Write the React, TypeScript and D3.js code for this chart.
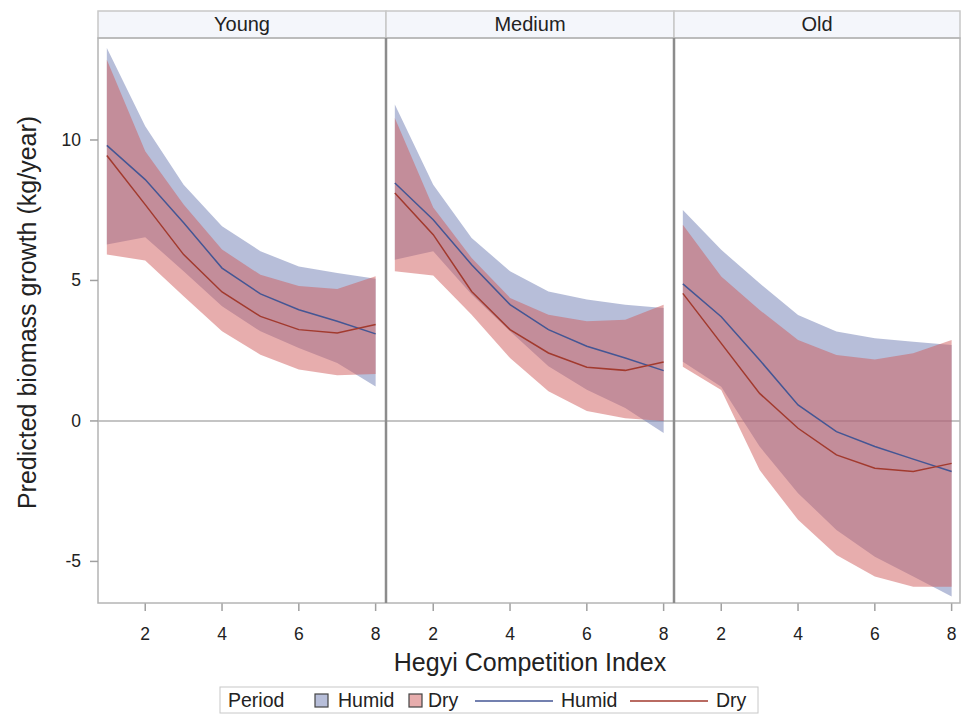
import React from "react";
import * as d3 from "d3";

// Hegyi Competition Index values
const hci = [1, 2, 3, 4, 5, 6, 7, 8];
const panelNames = ["Young", "Medium", "Old"];
const xTicks = [2, 4, 6, 8];
const yTicks = [-5, 0, 5, 10];

// Young
const youngHumid = [9.81, 8.59, 7.05, 5.44, 4.52, 3.96, 3.55, 3.1];
const youngHumidLo = [6.28, 6.54, 5.33, 4.08, 3.19, 2.6, 2.06, 1.23];
const youngHumidHi = [13.27, 10.49, 8.41, 6.93, 6.04, 5.5, 5.27, 5.06];
const youngDry = [9.45, 7.7, 5.92, 4.59, 3.72, 3.25, 3.13, 3.43];
const youngDryLo = [5.92, 5.71, 4.44, 3.19, 2.36, 1.83, 1.63, 1.67];
const youngDryHi = [12.86, 9.6, 7.7, 6.1, 5.2, 4.8, 4.7, 5.15];

// Medium
const mediumHumid = [8.47, 7.16, 5.56, 4.14, 3.25, 2.66, 2.24, 1.79];
const mediumHumidLo = [5.74, 6.04, 4.5, 3.19, 1.95, 1.11, 0.46, -0.43];
const mediumHumidHi = [11.26, 8.41, 6.51, 5.33, 4.61, 4.32, 4.14, 4.02];
const mediumDry = [8.11, 6.63, 4.61, 3.25, 2.42, 1.91, 1.8, 2.1];
const mediumDryLo = [5.33, 5.18, 3.78, 2.24, 1.06, 0.35, 0.1, 0.0];
const mediumDryHi = [10.78, 7.6, 5.8, 4.38, 3.78, 3.55, 3.6, 4.14];

// Old
const oldHumid = [4.88, 3.71, 2.17, 0.57, -0.38, -0.91, -1.36, -1.8];
const oldHumidLo = [2.11, 1.22, -0.91, -2.57, -3.88, -4.83, -5.54, -6.25];
const oldHumidHi = [7.51, 6.09, 4.9, 3.77, 3.18, 2.94, 2.82, 2.7];
const oldDry = [4.54, 2.76, 0.98, -0.26, -1.21, -1.68, -1.8, -1.51];
const oldDryLo = [1.93, 1.1, -1.75, -3.52, -4.77, -5.54, -5.9, -5.9];
const oldDryHi = [6.98, 5.14, 3.95, 2.88, 2.35, 2.19, 2.41, 2.88];

const humidFill = "rgb(111,126,179)";
const dryFill = "rgb(208,91,91)";
const humidLine = "#445694";
const dryLine = "#A23A2E";
const FONT = "'Liberation Sans', Arial, sans-serif";

export default function App() {
  const W = 962;
  const H = 714;
  const plotTop = 38;
  const plotBottom = 603;
  const headerTop = 11;
  const panelLeft = 98;
  const panelW = 288;
  const rightEdge = 960;

  const panels = [
    { name: panelNames[0], hm: youngHumid, hl: youngHumidLo, hh: youngHumidHi, dm: youngDry, dl: youngDryLo, dh: youngDryHi },
    { name: panelNames[1], hm: mediumHumid, hl: mediumHumidLo, hh: mediumHumidHi, dm: mediumDry, dl: mediumDryLo, dh: mediumDryHi },
    { name: panelNames[2], hm: oldHumid, hl: oldHumidLo, hh: oldHumidHi, dm: oldDry, dl: oldDryLo, dh: oldDryHi },
  ];

  const y = d3.scaleLinear().domain([-6.48, 13.63]).range([plotBottom, plotTop]);
  const legendY = 700;

  return (
    <svg width={W} height={H} style={{ position: "absolute", left: 0, top: 0, background: "#fff" }} fontFamily={FONT}>
      <rect x={0} y={0} width={W} height={H} fill="#fff" />
      {panels.map((p, i) => {
        const x0 = panelLeft + i * panelW;
        const x1 = i === 2 ? rightEdge : x0 + panelW;
        const x = d3.scaleLinear().domain([0.77, 8.27]).range([x0, x0 + panelW]);
        const area = (lo: number[], hi: number[]) =>
          d3
            .area<number>()
            .x((d) => x(d))
            .y0((_, k) => y(lo[k]))
            .y1((_, k) => y(hi[k]))(hci) as string;
        const line = (m: number[]) =>
          d3
            .line<number>()
            .x((d) => x(d))
            .y((_, k) => y(m[k]))(hci) as string;
        return (
          <g key={p.name}>
            <rect x={x0} y={headerTop} width={x1 - x0} height={plotTop - headerTop} fill="#f4f6fb" stroke="#c8c8c8" strokeWidth={1.5} />
            <text x={(x0 + x1) / 2} y={31} textAnchor="middle" fontSize={20} fill="#222">
              {p.name}
            </text>
            <line x1={x0} x2={x1} y1={y(0)} y2={y(0)} stroke="#c4c4c4" strokeWidth={2} />
            <path d={area(p.hl, p.hh)} fill={humidFill} fillOpacity={0.5} />
            <path d={area(p.dl, p.dh)} fill={dryFill} fillOpacity={0.5} />
            <path d={line(p.hm)} fill="none" stroke={humidLine} strokeWidth={1.5} />
            <path d={line(p.dm)} fill="none" stroke={dryLine} strokeWidth={1.5} />
            {xTicks.map((t) => (
              <g key={t}>
                <line x1={x(t)} x2={x(t)} y1={plotBottom} y2={plotBottom + 8} stroke="#a0a0a0" strokeWidth={1.5} />
                <text x={x(t)} y={640} textAnchor="middle" fontSize={17.5} fill="#222">
                  {t}
                </text>
              </g>
            ))}
          </g>
        );
      })}
      <rect x={panelLeft} y={plotTop} width={rightEdge - panelLeft} height={plotBottom - plotTop} fill="none" stroke="#b4b4b4" strokeWidth={1.5} />
      {[1, 2].map((i) => (
        <line key={i} x1={panelLeft + i * panelW} x2={panelLeft + i * panelW} y1={plotTop} y2={plotBottom} stroke="#8c8c8c" strokeWidth={2.5} />
      ))}
      {yTicks.map((t) => (
        <g key={t}>
          <line x1={panelLeft - 8} x2={panelLeft} y1={y(t)} y2={y(t)} stroke="#a0a0a0" strokeWidth={1.5} />
          <text x={81} y={y(t) + 6} textAnchor="end" fontSize={17.5} fill="#222">
            {t}
          </text>
        </g>
      ))}
      <text transform={`translate(36,${(plotTop + plotBottom) / 2 - 8}) rotate(-90)`} textAnchor="middle" fontSize={25} fill="#222">
        Predicted biomass growth (kg/year)
      </text>
      <text x={530} y={671} textAnchor="middle" fontSize={25} fill="#222">
        Hegyi Competition Index
      </text>
      <g>
        <rect x={220} y={legendY - 13} width={538} height={26} fill="#fff" stroke="#c8c8c8" strokeWidth={1} />
        <text x={228} y={legendY + 7} fontSize={19.5} fill="#222">Period</text>
        <rect x={315} y={legendY - 6} width={13} height={13} fill={humidFill} fillOpacity={0.5} stroke="#444" strokeWidth={1.2} />
        <text x={338} y={legendY + 7} fontSize={19.5} fill="#222">Humid</text>
        <rect x={409} y={legendY - 6} width={13} height={13} fill={dryFill} fillOpacity={0.5} stroke="#444" strokeWidth={1.2} />
        <text x={428} y={legendY + 7} fontSize={19.5} fill="#222">Dry</text>
        <line x1={475} x2={553} y1={legendY + 1} y2={legendY + 1} stroke={humidLine} strokeWidth={1.5} />
        <text x={561} y={legendY + 7} fontSize={19.5} fill="#222">Humid</text>
        <line x1={630} x2={708} y1={legendY + 1} y2={legendY + 1} stroke={dryLine} strokeWidth={1.5} />
        <text x={716} y={legendY + 7} fontSize={19.5} fill="#222">Dry</text>
      </g>
    </svg>
  );
}
